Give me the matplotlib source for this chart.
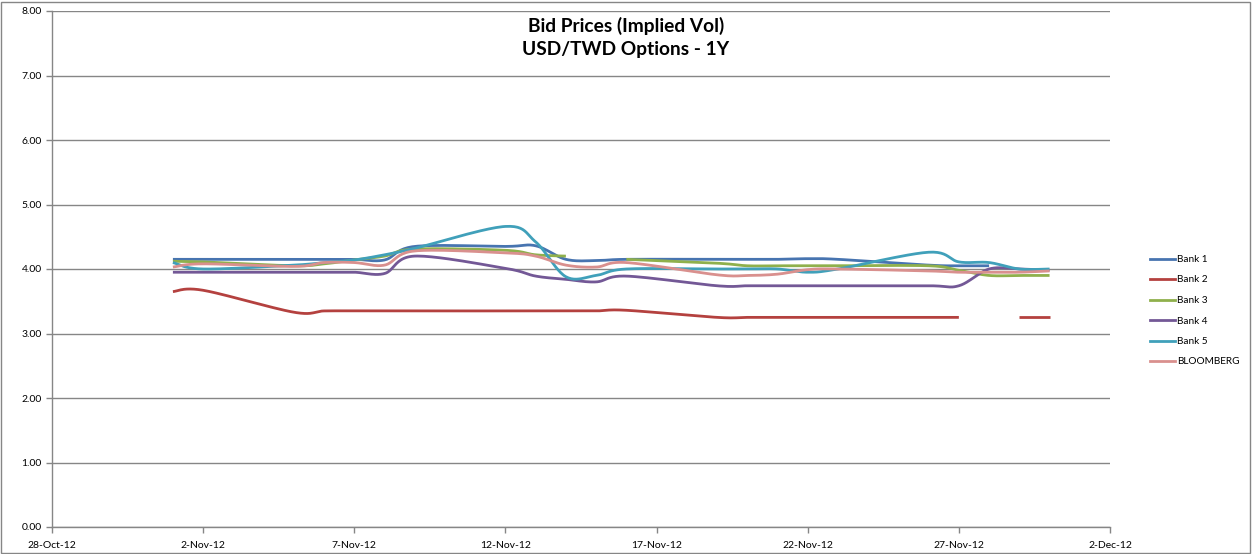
import numpy as np
import matplotlib
matplotlib.use('Agg')
import matplotlib.pyplot as plt
import matplotlib.dates as mdates
from matplotlib.patches import Rectangle
from matplotlib.lines import Line2D
from datetime import date

nan = np.nan

dates = ['2012-11-01', '2012-11-02', '2012-11-05', '2012-11-06', '2012-11-07',
         '2012-11-08', '2012-11-09', '2012-11-12', '2012-11-13', '2012-11-14',
         '2012-11-15', '2012-11-16', '2012-11-19', '2012-11-20', '2012-11-21',
         '2012-11-22', '2012-11-23', '2012-11-26', '2012-11-27', '2012-11-28',
         '2012-11-29', '2012-11-30']

bank1 = [4.15, 4.15, 4.15, 4.15, 4.15, 4.14, 4.35, 4.35, 4.36, 4.15, 4.13,
         4.15, 4.15, 4.15, 4.15, 4.16, 4.15, 4.06, 4.05, 4.05, nan, nan]
bank2 = [3.65, 3.67, 3.33, 3.35, 3.35, 3.35, 3.35, 3.35, 3.35, 3.35, 3.35,
         3.36, 3.25, 3.25, 3.25, 3.25, 3.25, 3.25, 3.25, nan, 3.25, 3.25]
bank3 = [4.12, 4.11, 4.05, 4.08, 4.14, 4.20, 4.31, 4.29, 4.22, 4.20, nan,
         4.15, 4.09, 4.05, 4.05, 4.05, 4.05, 4.05, 3.98, 3.90, 3.90, 3.90]
bank4 = [3.95, 3.95, 3.95, 3.95, 3.95, 3.93, 4.20, 4.01, 3.89, 3.84, 3.80,
         3.89, 3.74, 3.74, 3.74, 3.74, 3.74, 3.74, 3.74, 4.00, 4.00, 3.98]
bank5 = [4.10, 4.00, 4.06, 4.10, 4.14, 4.22, 4.32, 4.66, 4.42, 3.88, 3.90,
         4.00, 4.00, 4.00, 4.00, 3.95, 4.00, 4.26, 4.11, 4.10, 4.00, 4.00]
bloomberg = [4.03, 4.08, 4.04, 4.10, 4.10, 4.06, 4.28, 4.25, 4.20, 4.06, 4.03,
             4.10, 3.91, 3.90, 3.92, 3.99, 4.00, 3.97, 3.95, 3.95, 3.95, 3.97]

series = [('Bank 1', bank1, '#4774B0'),
          ('Bank 2', bank2, '#B4413F'),
          ('Bank 3', bank3, '#8FB04C'),
          ('Bank 4', bank4, '#735896'),
          ('Bank 5', bank5, '#40A0BA'),
          ('BLOOMBERG', bloomberg, '#D9908E')]

x = mdates.datestr2num(dates)

# pixel scale per day / per vol point, so the spline bends like a screen curve
SX, SY = 30.2, 64.5


def smooth(xs, ys, n=24):
    px = np.asarray(xs) * SX
    py = np.asarray(ys) * SY
    if len(px) < 2:
        return xs, ys
    P = np.column_stack([px, py])
    P = np.vstack([P[0], P, P[-1]])
    out = []
    t = np.linspace(0, 1, n)[:, None]
    for i in range(1, len(P) - 2):
        p0, p1, p2, p3 = P[i - 1], P[i], P[i + 1], P[i + 2]
        c1 = p1 + (p2 - p0) / 6.0
        c2 = p2 - (p3 - p1) / 6.0
        seg = ((1 - t) ** 3) * p1 + 3 * ((1 - t) ** 2) * t * c1 \
            + 3 * (1 - t) * t ** 2 * c2 + t ** 3 * p2
        out.append(seg)
    out = np.vstack(out)
    return out[:, 0] / SX, out[:, 1] / SY


fig = plt.figure(figsize=(12.52, 5.54), dpi=100)
plt.rcParams['font.family'] = ['Lato', 'DejaVu Sans']
ax = fig.add_axes([52 / 1252, 27 / 554, (1110 - 52) / 1252, (527 - 11) / 554])

for name, vals, col in series:
    v = np.array(vals, dtype=float)
    ok = ~np.isnan(v)
    # split into runs of valid values so gaps stay empty
    idx = np.where(ok)[0]
    runs = np.split(idx, np.where(np.diff(idx) > 1)[0] + 1)
    for r in runs:
        sx, sy = smooth(x[r], v[r])
        ax.plot(sx, sy, color=col, lw=2.0, solid_capstyle='butt')

start = mdates.date2num(date(2012, 10, 28))
end = mdates.date2num(date(2012, 12, 2))
ax.set_xlim(start, end)
ax.set_ylim(0, 8)
ax.set_xticks(np.arange(start, end + 1, 5))
ax.xaxis.set_major_formatter(plt.FuncFormatter(
    lambda v, p: '{}-{}'.format(mdates.num2date(v).day, mdates.num2date(v).strftime('%b-%y'))))
ax.set_yticks(np.arange(0, 9, 1))
ax.yaxis.set_major_formatter(plt.FuncFormatter(lambda v, p: '%.2f' % v))
ax.tick_params(axis='both', labelsize=7.5, colors='#868686', labelcolor='black',
               length=4, width=1, direction='out')
ax.tick_params(axis='x', pad=6)
ax.grid(axis='y', color='#868686', lw=1)
ax.set_axisbelow(True)
for s in ['top', 'right']:
    ax.spines[s].set_visible(False)
for s in ['left', 'bottom']:
    ax.spines[s].set_color('#868686')
    ax.spines[s].set_linewidth(1)

fig.text(0.5, 1 - 26 / 554, 'Bid Prices (Implied Vol)', ha='center', va='center',
         fontsize=13.8, fontweight='bold')
fig.text(0.5, 1 - 49 / 554, 'USD/TWD Options - 1Y', ha='center', va='center',
         fontsize=13.8, fontweight='bold')

handles = [Line2D([], [], color=c, lw=2.0) for _, _, c in series]
fig.legend(handles, [n for n, _, _ in series], loc='upper left',
           bbox_to_anchor=(1141 / 1252, 1 - 246 / 554), frameon=False,
           fontsize=7.2, handlelength=2.5, handletextpad=0.2, labelspacing=1.15)

fig.patches.append(Rectangle((1 / 1252, 1 / 554), 1249 / 1252, 551 / 554,
                             transform=fig.transFigure, fill=False,
                             edgecolor='#868686', lw=1))

fig.savefig('out.png', dpi=100)
